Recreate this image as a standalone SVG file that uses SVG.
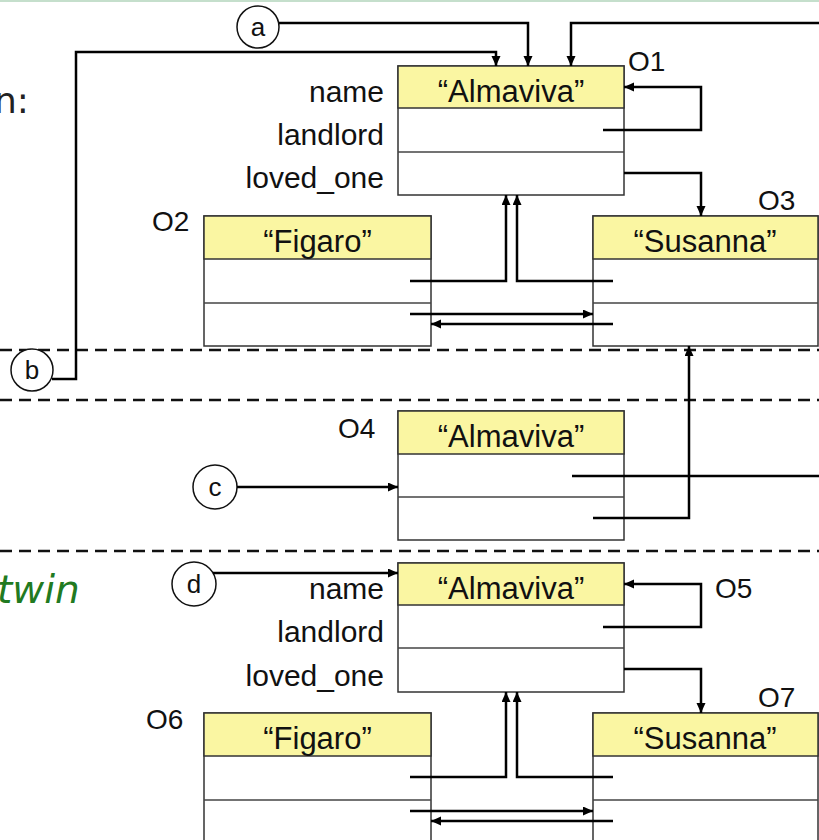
<svg xmlns="http://www.w3.org/2000/svg" width="819" height="840" viewBox="0 0 819 840">
<defs>
<marker id="ah" markerUnits="userSpaceOnUse" markerWidth="10" markerHeight="10" refX="10" refY="4.5" orient="auto">
<path d="M0,0 L10,4.5 L0,9 z" fill="#000"/>
</marker>
<style>
.hdr{fill:#faf6a2;stroke:#333;stroke-width:1.5}
.box{fill:#fff;stroke:#333;stroke-width:1.5}
.div{stroke:#444;stroke-width:1.5}
.con{fill:none;stroke:#000;stroke-width:2.5}
.arr{fill:none;stroke:#000;stroke-width:2.5;marker-end:url(#ah)}
.dash{stroke:#111;stroke-width:2.5;stroke-dasharray:12 7}
.t{font-family:"Liberation Sans",Arial,sans-serif;font-size:30px;fill:#111}
.val{text-anchor:middle;font-size:31px}
.lbl{text-anchor:end}
.oid{font-family:"Liberation Sans",Arial,sans-serif;font-size:28px;fill:#111}
.circ{fill:#fff;stroke:#111;stroke-width:1.5}
.ct{font-family:"Liberation Sans",Arial,sans-serif;font-size:26px;fill:#111;text-anchor:middle}
</style>
</defs>
<rect width="819" height="840" fill="#fff"/>
<line x1="0" y1="1" x2="819" y2="1" stroke="#c5dfcc" stroke-width="2"/>
<text x="-6" y="113" font-family="DejaVu Sans,Verdana,sans-serif" font-size="36" fill="#222">n:</text>
<text x="-3" y="603" font-family="DejaVu Sans,Verdana,sans-serif" font-size="39" font-style="italic" fill="#217a21">twin</text>

<g id="separators">
<line class="dash" x1="0" y1="350" x2="819" y2="350"/>
<line class="dash" x1="0" y1="400" x2="819" y2="400"/>
<line class="dash" x1="0" y1="551" x2="819" y2="551"/>
</g>

<g id="O1">
<rect class="box" x="398" y="66" width="226" height="129"/>
<rect class="hdr" x="398" y="66" width="226" height="42"/>
<line class="div" x1="398" y1="152" x2="624" y2="152"/>
<text class="t val" x="511" y="102">“Almaviva”</text>
<text class="t lbl" x="384" y="102">name</text>
<text class="t lbl" x="384" y="145">landlord</text>
<text class="t lbl" x="384" y="188">loved_one</text>
<text class="oid" x="628" y="71">O1</text>
</g>
<g id="O2">
<rect class="box" x="204" y="216" width="227" height="130"/>
<rect class="hdr" x="204" y="216" width="227" height="43"/>
<line class="div" x1="204" y1="303" x2="431" y2="303"/>
<text class="t val" x="317.5" y="252">“Figaro”</text>
<text class="oid" x="152" y="231">O2</text>
</g>
<g id="O3">
<rect class="box" x="593" y="216" width="225" height="130"/>
<rect class="hdr" x="593" y="216" width="225" height="43"/>
<line class="div" x1="593" y1="303" x2="818" y2="303"/>
<text class="t val" x="705" y="252">“Susanna”</text>
<text class="oid" x="758" y="210">O3</text>
</g>
<g id="O4">
<rect class="box" x="398" y="411" width="226" height="129"/>
<rect class="hdr" x="398" y="411" width="226" height="43"/>
<line class="div" x1="398" y1="497" x2="624" y2="497"/>
<text class="t val" x="511" y="447">“Almaviva”</text>
<text class="oid" x="338" y="438">O4</text>
</g>
<g id="O5">
<rect class="box" x="398" y="563" width="226" height="129"/>
<rect class="hdr" x="398" y="563" width="226" height="42"/>
<line class="div" x1="398" y1="648" x2="624" y2="648"/>
<text class="t val" x="511" y="599">“Almaviva”</text>
<text class="t lbl" x="384" y="599">name</text>
<text class="t lbl" x="384" y="642">landlord</text>
<text class="t lbl" x="384" y="686">loved_one</text>
<text class="oid" x="715" y="598">O5</text>
</g>
<g id="O6">
<rect class="box" x="204" y="713" width="227" height="140"/>
<rect class="hdr" x="204" y="713" width="227" height="43"/>
<line class="div" x1="204" y1="800" x2="431" y2="800"/>
<text class="t val" x="317.5" y="749">“Figaro”</text>
<text class="oid" x="146" y="729">O6</text>
</g>
<g id="O7">
<rect class="box" x="593" y="713" width="225" height="140"/>
<rect class="hdr" x="593" y="713" width="225" height="43"/>
<line class="div" x1="593" y1="800" x2="818" y2="800"/>
<text class="t val" x="705" y="749">“Susanna”</text>
<text class="oid" x="758" y="707">O7</text>
</g>

<g id="a">
<circle class="circ" cx="258" cy="27" r="21"/>
<text class="ct" x="258" y="36">a</text>
</g>
<g id="b">
<circle class="circ" cx="32" cy="370" r="21"/>
<text class="ct" x="32" y="379">b</text>
</g>
<g id="c">
<circle class="circ" cx="215" cy="487" r="22"/>
<text class="ct" x="215" y="496">c</text>
</g>
<g id="d">
<circle class="circ" cx="194" cy="584" r="22"/>
<text class="ct" x="194" y="593">d</text>
</g>

<g id="connectors">
<path class="arr" d="M279,23 H528 V66"/>
<path class="arr" d="M819,23 H571 V66"/>
<path class="arr" d="M52,379 H76 V52 H496 V66"/>
<path class="arr" d="M603,130 H701 V87 H624"/>
<path class="arr" d="M624,173 H701 V216"/>
<path class="arr" d="M410,281 H506 V195"/>
<path class="arr" d="M613,281 H517 V195"/>
<path class="arr" d="M410,314 H593"/>
<path class="arr" d="M613,324 H431"/>
<path class="arr" d="M237,487 H398"/>
<path class="con" d="M572,476 H819"/>
<path class="arr" d="M593,518 H689 V346"/>
<path class="arr" d="M213,573 H398"/>
<path class="arr" d="M603,627 H701 V584 H624"/>
<path class="arr" d="M624,669 H701 V713"/>
<path class="arr" d="M410,777 H506 V692"/>
<path class="arr" d="M613,777 H517 V692"/>
<path class="arr" d="M410,811 H593"/>
<path class="arr" d="M613,821 H431"/>
</g>
</svg>
